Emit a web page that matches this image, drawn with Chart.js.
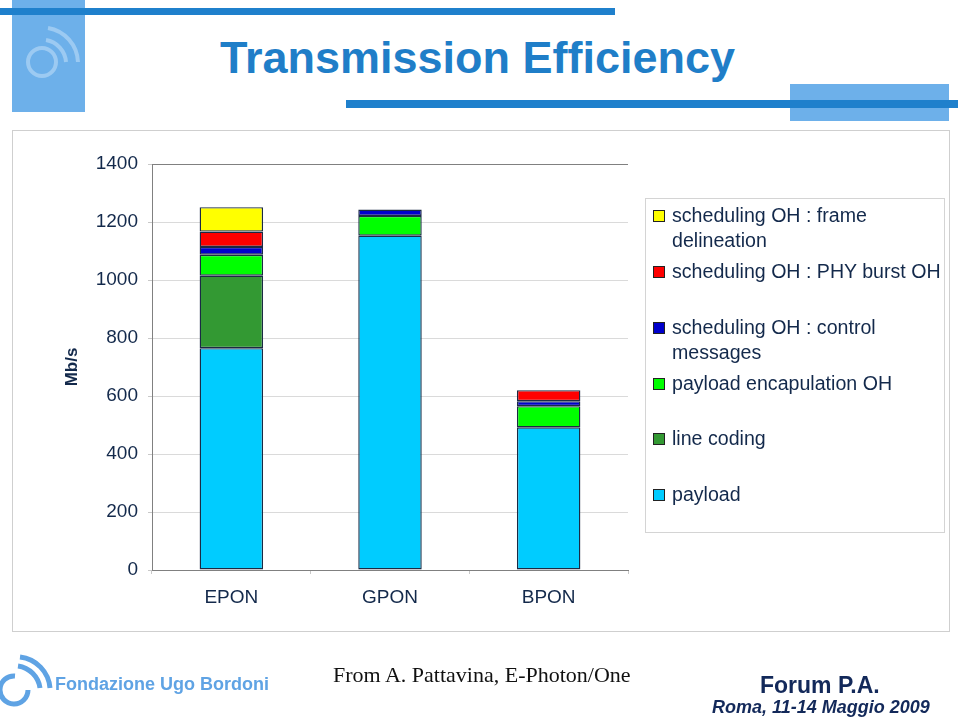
<!DOCTYPE html>
<html lang="en">
<head>
    <meta charset="UTF-8">
    <title>Transmission Efficiency</title>
    <script src="https://cdn.jsdelivr.net/npm/chart.js"></script>
    <style>
        body {
            margin: 0;
            width: 960px;
            height: 718px;
            background: #ffffff;
            font-family: Arial, "Liberation Sans", sans-serif;
            overflow: hidden;
            position: relative;
        }

        /* header decoration */
        .bar { position: absolute; background: #1f80cc; }
        .square { position: absolute; background: #6db0ea; }

        .title {
            position: absolute;
            left: 220px;
            top: 33px;
            font-size: 44px;
            font-weight: bold;
            color: #1f7ec8;
            white-space: nowrap;
            transform-origin: left top;
        }

        /* chart frame */
        .frame {
            position: absolute;
            left: 12px;
            top: 130px;
            width: 938px;
            height: 502px;
            border: 1px solid #cfcfcf;
            box-sizing: border-box;
        }

        #chartBox {
            position: absolute;
            left: 0;
            top: 0;
            width: 960px;
            height: 718px;
        }

        /* legend */
        .legend {
            position: absolute;
            left: 645px;
            top: 198px;
            width: 300px;
            height: 335px;
            border: 1px solid #d4d4d4;
            box-sizing: border-box;
        }
        .legend-item {
            position: absolute;
            left: 7px;
            color: #13294b;
            font-size: 19.6px;
            line-height: 25px;
        }
        .legend-item .swatch {
            position: absolute;
            left: 0;
            top: 7px;
            width: 10px;
            height: 10px;
            border: 1px solid #222;
        }
        .legend-item .text { margin-left: 19px; white-space: nowrap; }

        /* footer */
        .foot-src {
            position: absolute;
            left: 333px;
            top: 662px;
            font-family: "Liberation Serif", "DejaVu Serif", serif;
            font-size: 22px;
            color: #111;
        }
        .foot-forum {
            position: absolute;
            left: 760px;
            top: 672px;
            font-size: 23px;
            font-weight: bold;
            color: #13295a;
        }
        .foot-roma {
            position: absolute;
            left: 712px;
            top: 697px;
            font-size: 18px;
            font-weight: bold;
            font-style: italic;
            color: #13295a;
        }
        .foot-fub {
            position: absolute;
            left: 55px;
            top: 674px;
            font-size: 18px;
            font-weight: bold;
            color: #5fa3e4;
        }
    </style>
</head>
<body>
    <!-- header -->
    <div class="square" style="left:12px; top:0; width:73px; height:112px;"></div>
    <svg style="position:absolute; left:12px; top:0;" width="73" height="112">
        <g fill="none" stroke="#9ccaf2" stroke-width="4">
            <circle cx="30" cy="62" r="14"/>
            <path d="M 34 40 A 24 24 0 0 1 54 62"/>
            <path d="M 36 28 A 36 36 0 0 1 66 62"/>
        </g>
    </svg>
    <div class="bar" style="left:0; top:8px; width:615px; height:7px;"></div>
    <div class="square" style="left:790px; top:84px; width:159px; height:37px;"></div>
    <div class="bar" style="left:346px; top:100px; width:612px; height:8px;"></div>
    <div class="title" id="title">Transmission Efficiency</div>

    <!-- chart -->
    <div class="frame"></div>
    <div id="chartBox"><canvas id="effChart"></canvas></div>
    <div class="legend" id="legend"></div>

    <!-- footer -->
    <svg style="position:absolute; left:0; top:654px;" width="56" height="56">
        <g fill="none" stroke="#5fa3e4" stroke-width="5">
            <path d="M 15 22 A 14 14 0 1 0 28 36"/>
            <path d="M 18 12 A 26 26 0 0 1 40 34"/>
            <path d="M 20 3 A 34 34 0 0 1 50 34"/>
        </g>
    </svg>
    <div class="foot-fub">Fondazione Ugo Bordoni</div>
    <div class="foot-src">From A. Pattavina, E-Photon/One</div>
    <div class="foot-forum">Forum P.A.</div>
    <div class="foot-roma">Roma, 11-14 Maggio 2009</div>

    <script>
        // categories and series (Mb/s), bottom of stack first
        const categories = ['EPON', 'GPON', 'BPON'];
        const payload = [765, 1153, 492];
        const lineCoding = [250, null, null];
        const payloadEncapOH = [72, 68, 73];
        const controlMessages = [27, 22, 17];
        const phyBurstOH = [53, null, 38];
        const frameDelineation = [84, null, null];
        const yTicks = [0, 200, 400, 600, 800, 1000, 1200, 1400];

        const series = [
            { label: 'payload', data: payload, color: '#00ccff' },
            { label: 'line coding', data: lineCoding, color: '#339933' },
            { label: 'payload encapulation OH', data: payloadEncapOH, color: '#00ff00' },
            { label: 'scheduling OH : control\nmessages', data: controlMessages, color: '#0000cc' },
            { label: 'scheduling OH : PHY burst OH', data: phyBurstOH, color: '#ff0000' },
            { label: 'scheduling OH : frame\ndelineation', data: frameDelineation, color: '#ffff00' }
        ];

        const textColor = '#13294b';

        const ctx = document.getElementById('effChart').getContext('2d');
        const effChart = new Chart(ctx, {
            type: 'bar',
            data: {
                labels: categories,
                datasets: series.map(s => ({
                    label: s.label,
                    data: s.data,
                    backgroundColor: s.color,
                    borderColor: '#1a2a44',
                    borderWidth: 1.4,
                    borderSkipped: false,
                    barPercentage: 0.4,
                    categoryPercentage: 1.0
                }))
            },
            options: {
                responsive: true,
                maintainAspectRatio: false,
                animation: false,
                layout: {
                    padding: { left: 62, right: 332, top: 164, bottom: 98 }
                },
                plugins: {
                    legend: { display: false },
                    tooltip: { enabled: false }
                },
                scales: {
                    x: {
                        stacked: true,
                        afterFit: scale => { scale.height = 50; },
                        grid: {
                            offset: true,
                            color: c => c.index === categories.length ? '#808080' : 'rgba(0,0,0,0)',
                            tickColor: '#c8c8c8',
                            tickLength: 4
                        },
                        border: { color: '#808080', width: 1 },
                        ticks: {
                            color: textColor,
                            padding: 12,
                            font: { family: 'Arial, "Liberation Sans", sans-serif', size: 19 }
                        }
                    },
                    y: {
                        stacked: true,
                        min: 0,
                        max: 1400,
                        afterFit: scale => { scale.width = 90; },
                        afterBuildTicks: scale => { scale.ticks = yTicks.map(v => ({ value: v })); },
                        grid: {
                            color: c => c.tick && c.tick.value === 1400 ? '#808080' : '#dadada',
                            tickColor: '#c8c8c8',
                            tickLength: 4
                        },
                        border: { color: '#808080', width: 1 },
                        ticks: {
                            color: textColor,
                            padding: 10,
                            callback: v => String(v),
                            font: { family: 'Arial, "Liberation Sans", sans-serif', size: 19 }
                        },
                        title: {
                            display: true,
                            text: 'Mb/s',
                            color: textColor,
                            padding: 0,
                            font: { family: 'Arial, "Liberation Sans", sans-serif', size: 17, weight: 'bold' }
                        }
                    }
                }
            }
        });

        // legend, top of stack first
        const legendEl = document.getElementById('legend');
        const legendTops = [4, 60, 116, 172, 227, 283];
        series.slice().reverse().forEach((s, i) => {
            const item = document.createElement('div');
            item.className = 'legend-item';
            item.style.top = legendTops[i] + 'px';
            item.innerHTML = '<div class="swatch" style="background:' + s.color + '"></div>' +
                '<div class="text">' + s.label.replace('\n', '<br>') + '</div>';
            legendEl.appendChild(item);
        });

        // squeeze the title to the width of the original
        const titleEl = document.getElementById('title');
        const w = titleEl.getBoundingClientRect().width;
        titleEl.style.transform = 'scaleX(' + (515 / w) + ')';
    </script>
</body>
</html>
